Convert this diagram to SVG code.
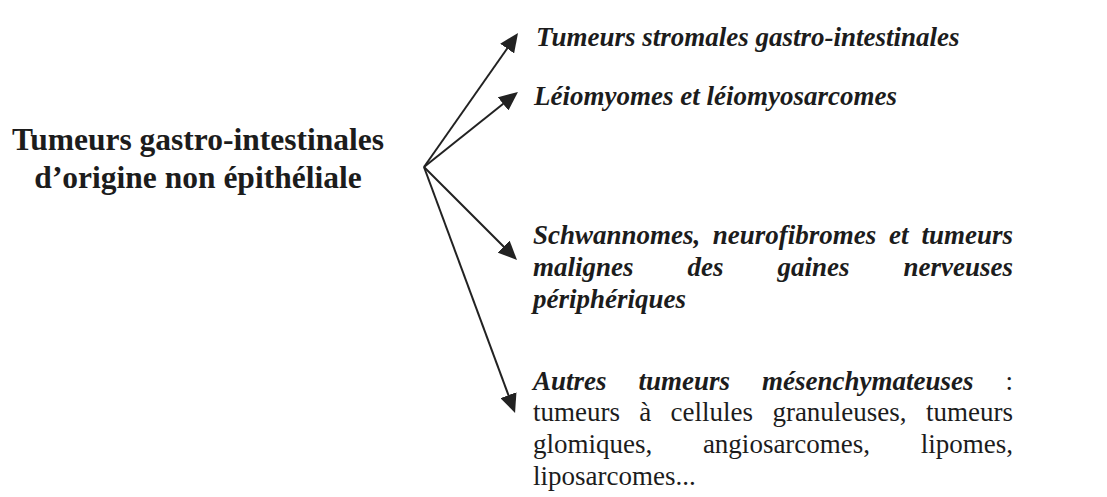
<svg xmlns="http://www.w3.org/2000/svg" width="1107" height="497" viewBox="0 0 1107 497">
<style>
text{font-family:"Liberation Serif","Times New Roman",serif;fill:#1c1c1c}
.src{font-size:31.5px;font-weight:bold;text-anchor:middle}
.bi{font-size:27px;font-weight:bold;font-style:italic}
.rg{font-size:27px}
.end{text-anchor:end}
.conn line{stroke:#222;stroke-width:2;fill:none}
</style>
<defs>
<marker id="ah" viewBox="0 0 19 17" refX="1" refY="8.5" markerWidth="19" markerHeight="17" markerUnits="userSpaceOnUse" orient="auto">
<path d="M0,0 L19,8.5 L0,17 z" fill="#222"/>
</marker>
</defs>
<rect width="1107" height="497" fill="#fff"/>
<g id="connectors" class="conn">
<line x1="424" y1="167" x2="507.7" y2="47.7" marker-end="url(#ah)"/>
<line x1="424" y1="167" x2="503.9" y2="103.2" marker-end="url(#ah)"/>
<line x1="424" y1="167" x2="504.3" y2="247.3" marker-end="url(#ah)"/>
<line x1="424" y1="167" x2="508.8" y2="396.1" marker-end="url(#ah)"/>
</g>
<g id="node-source">
<text class="src" x="198" y="150">Tumeurs gastro-intestinales</text>
<text class="src" x="198" y="188">d’origine non épithéliale</text>
</g>
<g id="node-gist">
<text class="bi" x="536" y="46">Tumeurs stromales gastro-intestinales</text>
</g>
<g id="node-leio">
<text class="bi" x="534" y="105">Léiomyomes et léiomyosarcomes</text>
</g>
<g id="node-schwann">
<text class="bi" x="533" y="244">Schwannomes,</text>
<text class="bi" x="712.8" y="244">neurofibromes</text>
<text class="bi" x="889.1" y="244">et</text>
<text class="bi end" x="1013" y="244">tumeurs</text>
<text class="bi" x="533" y="276">malignes</text>
<text class="bi" x="687.5" y="276">des</text>
<text class="bi" x="777.5" y="276">gaines</text>
<text class="bi end" x="1013" y="276">nerveuses</text>
<text class="bi" x="533" y="308">périphériques</text>
</g>
<g id="node-autres">
<text class="bi" x="533" y="390">Autres</text>
<text class="bi" x="638.5" y="390">tumeurs</text>
<text class="bi" x="762" y="390">mésenchymateuses</text>
<text class="rg end" x="1013" y="390">:</text>
<text class="rg" x="533" y="421">tumeurs</text>
<text class="rg" x="639.3" y="421">à</text>
<text class="rg" x="670.6" y="421">cellules</text>
<text class="rg" x="772.4" y="421">granuleuses,</text>
<text class="rg end" x="1013" y="421">tumeurs</text>
<text class="rg" x="533" y="453">glomiques,</text>
<text class="rg" x="702.9" y="453">angiosarcomes,</text>
<text class="rg end" x="1013" y="453">lipomes,</text>
<text class="rg" x="533" y="485">liposarcomes...</text>
</g>
</svg>
